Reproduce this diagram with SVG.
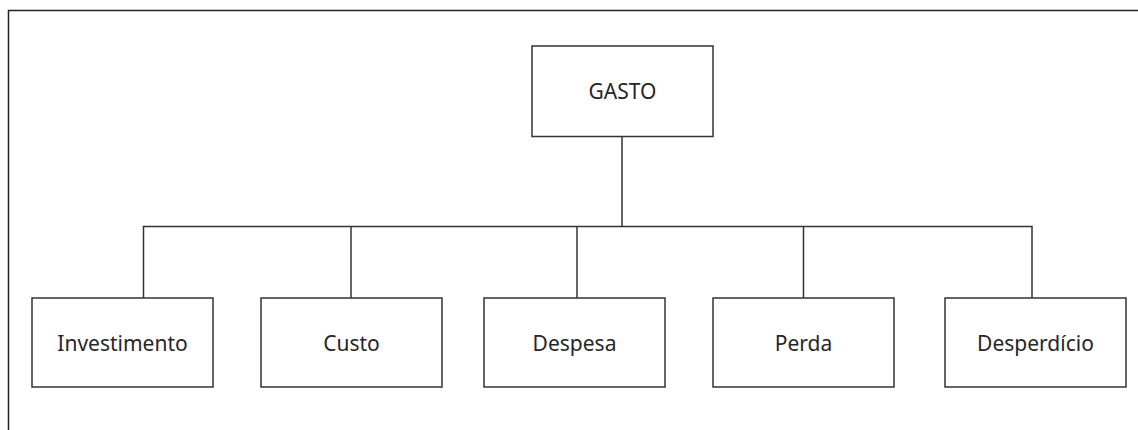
<svg xmlns="http://www.w3.org/2000/svg" width="1138" height="430" viewBox="0 0 1138 430">
<style>
.box{fill:#fff;stroke:#333;stroke-width:1.5}
.lbl{font-family:"Noto Sans","Open Sans",sans-serif;font-size:21px;fill:#262626;text-anchor:middle}
.con{fill:none;stroke:#333;stroke-width:1.5}
.frame{fill:none;stroke:#222;stroke-width:1.5}
</style>
<rect width="1138" height="430" fill="#fff"/>
<path class="frame" d="M8.5,430 V10.5 H1138"/>
<g id="connectors">
<path class="con" d="M622,136.5 V226.5"/>
<path class="con" d="M143.5,298 V226.5 H1032 V298"/>
<path class="con" d="M351,226.5 V298"/>
<path class="con" d="M577,226.5 V298"/>
<path class="con" d="M803.5,226.5 V298"/>
</g>
<g id="gasto"><rect class="box" x="532" y="46" width="181" height="90.5"/><text class="lbl" x="622.5" y="99">GASTO</text></g>
<g id="investimento"><rect class="box" x="32" y="298" width="181" height="89"/><text class="lbl" x="122.5" y="350.5">Investimento</text></g>
<g id="custo"><rect class="box" x="261" y="298" width="181" height="89"/><text class="lbl" x="351.5" y="350.5">Custo</text></g>
<g id="despesa"><rect class="box" x="484" y="298" width="181" height="89"/><text class="lbl" x="574.5" y="350.5">Despesa</text></g>
<g id="perda"><rect class="box" x="713" y="298" width="181" height="89"/><text class="lbl" x="803.5" y="350.5">Perda</text></g>
<g id="desperdicio"><rect class="box" x="945" y="298" width="181" height="89"/><text class="lbl" x="1035.5" y="350.5">Desperdício</text></g>
</svg>
